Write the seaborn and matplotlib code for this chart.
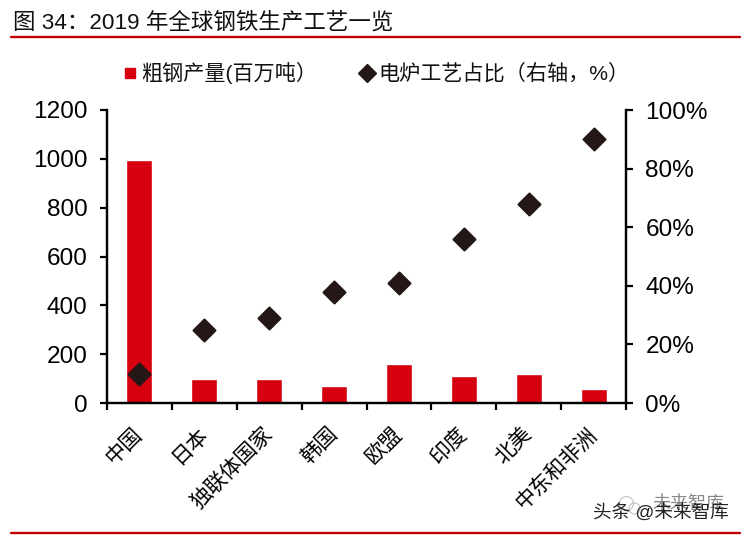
import matplotlib
matplotlib.use("Agg")
import matplotlib.pyplot as plt
from matplotlib.lines import Line2D
import pandas as pd
import seaborn as sns

regions = ["中国", "日本", "独联体国家", "韩国", "欧盟", "印度", "北美", "中东和非洲"]
steel_output = [996, 99, 100, 71, 159, 112, 120, 58]
eaf_share = [10, 25, 29, 38, 41, 56, 68, 90]
left_ticks = [0, 200, 400, 600, 800, 1000, 1200]
right_ticks = [0, 20, 40, 60, 80, 100]

sns.set_theme(style="white")
plt.rcParams["font.family"] = ["Liberation Sans", "Noto Sans CJK SC"]

W, H = 745, 538
RED = "#d7000f"
DARK = "#231815"
RULE = "#c00000"

df = pd.DataFrame({"region": regions, "output": steel_output, "share": eaf_share})

fig = plt.figure(figsize=(W / 100, H / 100), dpi=100)
ax = fig.add_axes([107 / W, 1 - 403 / H, 519 / W, 293 / H])

sns.barplot(data=df, x="region", y="output", color=RED, saturation=1, width=0.4, ax=ax)
ax.set_xlim(-0.5, 7.5)
ax.set_ylim(0, 1200)
ax.set_yticks(left_ticks)
ax.set_xlabel("")
ax.set_ylabel("")

ax2 = ax.twinx()
sns.scatterplot(data=df, x="region", y="share", marker="D", s=125, color=DARK,
                edgecolor=DARK, linewidth=1.5, legend=False, ax=ax2, zorder=5)
ax2.collections[0].set_joinstyle("round")
ax2.set_xlim(-0.5, 7.5)
ax2.set_ylim(0, 100)
ax2.set_yticks(right_ticks)
ax2.set_yticklabels([f"{t}%" for t in right_ticks])
ax2.set_ylabel("")

# bottom ticks sit between the categories
ax.set_xticks([i - 0.5 for i in range(9)], minor=True)
ax.set_xticks(range(8))
ax.set_xticklabels(regions, rotation=45, ha="right", va="center", rotation_mode="anchor",
                   fontsize=15.2, color="black")
ax.tick_params(axis="x", which="major", length=0, pad=20)
ax.tick_params(axis="x", which="minor", length=5, width=1.6, color="black", bottom=True)
ax.tick_params(axis="y", length=5, width=1.6, color="black", labelsize=17.6, labelcolor="black", left=True, pad=9)
ax2.tick_params(axis="y", length=5, width=1.6, color="black", labelsize=17.6, labelcolor="black", right=True, pad=9)

for a in (ax, ax2):
    a.grid(False)
    a.spines["top"].set_visible(False)
    for side in ("left", "right", "bottom"):
        a.spines[side].set_linewidth(1.6)
        a.spines[side].set_color("black")

# header and rules
fig.text(13 / W, 1 - 23 / H, "图 34：2019 年全球钢铁生产工艺一览", fontsize=16.2, va="center", ha="left", color="#111111")
fig.add_artist(Line2D([11 / W, 740 / W], [1 - 37 / H] * 2, color=RULE, lw=1.7))
fig.add_artist(Line2D([11 / W, 740 / W], [1 - 533 / H] * 2, color=RULE, lw=1.7))

# legend
fig.add_artist(Line2D([130 / W], [1 - 73 / H], marker="s", ms=7.5, color=RED, lw=0))
fig.text(141 / W, 1 - 73 / H, "粗钢产量(百万吨）", fontsize=15.2, va="center", ha="left", color="#111111")
fig.add_artist(Line2D([367 / W], [1 - 73 / H], marker="D", ms=9.5, color=DARK, lw=0))
fig.text(378 / W, 1 - 73 / H, "电炉工艺占比（右轴，%）", fontsize=15.2, va="center", ha="left", color="#111111")

# watermark
fig.add_artist(Line2D([626 / W], [1 - 503 / H], marker="o", ms=10, mfc="none", mec="#bbbbbb", mew=0.8, ls="", alpha=0.9))
fig.add_artist(Line2D([634 / W], [1 - 508 / H], marker="o", ms=8, mfc="none", mec="#bbbbbb", mew=0.8, ls="", alpha=0.9))
fig.text(652 / W, 1 - 504 / H, "未来智库", fontsize=13, va="center", ha="left", color="#555555", alpha=0.7)
fig.text(593 / W, 1 - 513 / H, "头条 @未来智库", fontsize=13.4, va="center", ha="left", color="#222222")

fig.savefig("out.png", dpi=100)
